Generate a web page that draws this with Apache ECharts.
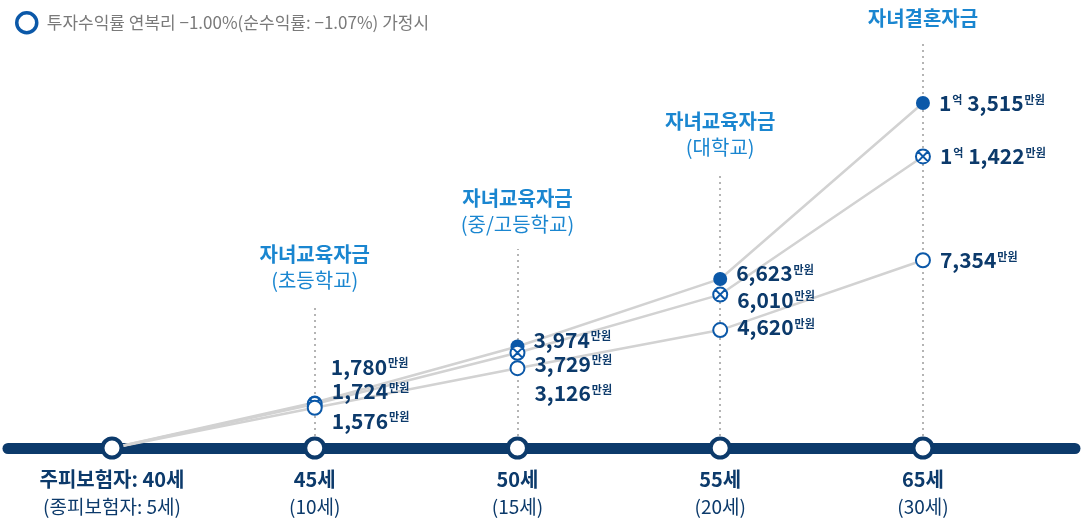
<!DOCTYPE html>
<html>
<head>
	<meta charset="utf-8">
	<script src="https://cdn.jsdelivr.net/npm/echarts@6/dist/echarts.min.js"></script>
</head>
<body style="margin:0">
	<div id="main" style="width: 1081px; height: 521px;"></div>
<script type="text/javascript">
        // 데이터
        var ageLabels = ['주피보험자: 40세', '45세', '50세', '55세', '65세'];
        var subLabels = ['(종피보험자: 5세)', '(10세)', '(15세)', '(20세)', '(30세)'];
        var fundFilled  = [0, 1780, 3974, 6623, 13515];
        var fundCrossed = [0, 1724, 3729, 6010, 11422];
        var fundHollow  = [0, 1576, 3126, 4620, 7354];
        var guideIdx    = [1, 2, 3, 4];
        var guideTitle  = ['자녀교육자금', '자녀교육자금', '자녀교육자금', '자녀결혼자금'];
        var guideSub    = ['(초등학교)', '(중/고등학교)', '(대학교)', ''];

        // 스타일
        var FONT = "'Noto Sans CJK KR', 'Noto Sans', sans-serif";
        var NAVY = '#0c3a6b';
        var BLUE = '#0b58a8';
        var SKY = '#1a86d0';
        var guideTop = [5602, 7796, 10812, 15866];           // 점선 끝(주석 위치)
        var shiftFilled  = [0, -36, -7, -6, 0];
        var shiftCrossed = [0, -13, 11, 5, 0];
        var shiftHollow  = [0, 13, 25, -3, 0];
        var crossPath = 'path://M0,-10A10,10,0,1,1,0,10A10,10,0,1,1,0,-10ZM-7.07,-7.07L7.07,7.07M7.07,-7.07L-7.07,7.07';

        var myChart = echarts.init(document.getElementById('main'));

        function comma(n) {
            return String(n).replace(/\B(?=(\d{3})+(?!\d))/g, ',');
        }
        function fmt(p) {
            var v = p.value[1];
            if (v >= 10000) {
                var rest = v % 10000;
                return '{n|' + Math.floor(v / 10000) + '}{u|억}{n| ' + comma(rest) + '}{u|만원}';
            }
            return '{n|' + comma(v) + '}{u|만원}';
        }
        function pts(vals) {
            return vals.map(function (v, i) { return [i, v]; });
        }
        function marks(vals, shifts) {
            var out = [];
            vals.forEach(function (v, i) {
                if (i > 0) out.push({ value: [i, v], label: { offset: [0, shifts[i]] } });
            });
            return out;
        }
        var valueLabel = {
            show: true,
            position: 'right',
            distance: 9,
            formatter: fmt,
            rich: {
                n: { fontFamily: FONT, fontSize: 21, fontWeight: 'bold', color: NAVY, lineHeight: 26 },
                u: { fontFamily: FONT, fontSize: 11, fontWeight: 'bold', color: NAVY, lineHeight: 22, verticalAlign: 'top', padding: [4, 0, 0, 1] }
            }
        };
        var lineStyle = { color: '#d2d2d2', width: 2.5 };

        var guides = guideIdx.map(function (x, k) {
            var txt = '{t|' + guideTitle[k] + '}' + (guideSub[k] ? '\n{s|' + guideSub[k] + '}' : '');
            return [
                { coord: [x, 0] },
                { coord: [x, guideTop[k]], label: { formatter: txt } }
            ];
        });

        var hollowName = '투자수익률 연복리 −1.00%(순수익률: −1.07%) 가정시';

        function lineSeries(name, vals) {
            return {
                name: name, type: 'line', z: 2, showSymbol: false, silent: true,
                data: pts(vals), lineStyle: lineStyle
            };
        }
        function markSeries(name, vals, shifts, symbol, itemStyle) {
            return {
                name: name, type: 'scatter', z: 6, symbol: symbol, symbolSize: 14,
                itemStyle: Object.assign({ opacity: 1 }, itemStyle),
                data: marks(vals, shifts), label: valueLabel
            };
        }

        option = {
            animation: false,
            backgroundColor: '#ffffff',
            legend: {
                left: 10,
                top: 6,
                itemWidth: 20,
                itemHeight: 20,
                textStyle: { fontFamily: FONT, fontSize: 17, color: '#7a7a7a', padding: [0, 0, 0, 5] },
                data: [{
                    name: hollowName,
                    icon: 'circle',
                    itemStyle: { color: '#fff', borderColor: BLUE, borderWidth: 3.5 }
                }]
            },
            grid: { left: 8, right: 6, top: 14.04, bottom: 73 },
            xAxis: {
                type: 'value',
                min: -0.513,
                max: 4.75,
                splitLine: { show: false },
                axisTick: { show: false },
                axisLine: { show: true, lineStyle: { color: NAVY, width: 11 } },
                axisLabel: {
                    customValues: [0, 1, 2, 3, 4],
                    margin: 17,
                    formatter: function (v) {
                        return '{a|' + ageLabels[v] + '}\n{b|' + subLabels[v] + '}';
                    },
                    rich: {
                        a: { fontFamily: FONT, fontSize: 20, fontWeight: 'bold', color: NAVY, lineHeight: 28 },
                        b: { fontFamily: FONT, fontSize: 19, color: NAVY, lineHeight: 28 }
                    }
                }
            },
            yAxis: { type: 'value', min: 0, max: 17000, show: false },
            series: [
                {
                    name: 'guide',
                    type: 'line',
                    data: [],
                    z: 1,
                    markLine: {
                        z: 1,
                        silent: true,
                        symbol: ['none', 'none'],
                        lineStyle: { color: '#b4b4b4', width: 2, type: [2, 4] },
                        label: {
                            show: true,
                            position: 'end',
                            distance: 12,
                            rich: {
                                t: { fontFamily: FONT, fontSize: 20, fontWeight: 'bold', color: SKY, lineHeight: 26, align: 'center' },
                                s: { fontFamily: FONT, fontSize: 20, color: SKY, lineHeight: 26, align: 'center' }
                            }
                        },
                        data: guides
                    }
                },
                lineSeries('line A', fundFilled),
                lineSeries('line B', fundCrossed),
                lineSeries('line C', fundHollow),
                markSeries('수익률 가정 A', fundFilled, shiftFilled, 'circle', { color: BLUE }),
                markSeries('수익률 가정 B', fundCrossed, shiftCrossed, crossPath, { color: '#fff', borderColor: BLUE, borderWidth: 2 }),
                markSeries(hollowName, fundHollow, shiftHollow, 'circle', { color: '#fff', borderColor: BLUE, borderWidth: 2 }),
                {
                    name: 'axisDots',
                    type: 'scatter',
                    z: 7,
                    silent: true,
                    symbol: 'circle',
                    symbolSize: 19,
                    itemStyle: { color: '#fff', borderColor: NAVY, borderWidth: 4, opacity: 1 },
                    data: ageLabels.map(function (a, i) { return [i, 0]; })
                }
            ]
        };

        myChart.setOption(option);
    </script>
</body>
</html>
